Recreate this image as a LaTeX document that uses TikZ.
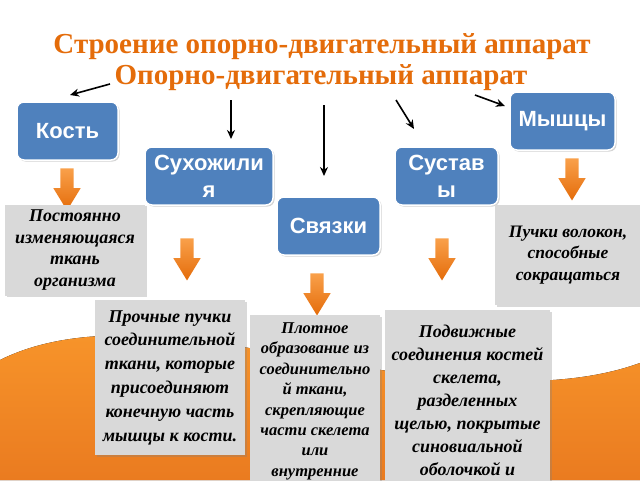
\documentclass[tikz,border=0pt]{standalone}
\usepackage{fontspec}
\setmainfont{Liberation Serif}
\setsansfont{Liberation Sans}
\usetikzlibrary{arrows.meta,shapes.arrows,shadows}
\definecolor{titleorange}{HTML}{E46C0A}
\definecolor{boxblue}{HTML}{4F81BD}
\definecolor{boxgray}{HTML}{D9D9D9}
\definecolor{arrowlight}{HTML}{F9A04A}
\definecolor{arrowdark}{HTML}{E46C0A}
\definecolor{wavetop}{HTML}{F7942A}
\definecolor{wavebottom}{HTML}{EA7B20}
\tikzset{
  titletext/.style={text=titleorange, font=\bfseries\fontsize{29}{33}\selectfont, inner sep=0pt},
  partbox/.style={draw=white, line width=1.5pt, fill=boxblue, rounded corners=7pt,
    text=white, align=center, font=\sffamily\bfseries\fontsize{22}{27}\selectfont,
    drop shadow={opacity=0.35, shadow xshift=1.5pt, shadow yshift=-1.5pt}},
  notebox/.style={fill=boxgray, align=center, inner xsep=0pt,
    drop shadow={opacity=0.3, shadow xshift=1.5pt, shadow yshift=-1.5pt}},
  downarrow/.style={single arrow, shape border rotate=270, top color=arrowlight,
    bottom color=arrowdark, minimum height=42pt, minimum width=27pt,
    single arrow head extend=7pt, single arrow tip angle=63, inner sep=6.5pt},
  link/.style={-{Stealth[length=9pt,width=8pt]}, line width=1.6pt}
}
\begin{document}
\begin{tikzpicture}[x=1pt,y=1pt]
  \clip (0,0) rectangle (640,-480);
  \fill[top color=wavetop, bottom color=wavebottom] (0,-360)
    .. controls (40,-340) and (90,-333) .. (150,-336)
    .. controls (260,-342) and (400,-385) .. (530,-381)
    .. controls (580,-380) and (615,-372) .. (640,-363)
    -- (640,-480) -- (0,-480) -- cycle;

  \node[titletext] (title) at (322,-47) {Строение опорно-двигательный аппарат};
  \node[titletext] (subtitle) at (321,-78) {Опорно-двигательный аппарат};

  \node[partbox, minimum width=101pt, minimum height=58pt] (kost) at (67.5,-131) {Кость};
  \node[partbox, minimum width=128pt, minimum height=58pt] (suhozh) at (209,-176) {Сухожили\\я};
  \node[partbox, minimum width=103pt, minimum height=58pt] (svyaz) at (328.5,-226) {Связки};
  \node[partbox, minimum width=103pt, minimum height=58pt] (sustav) at (446.5,-176) {Сустав\\ы};
  \node[partbox, minimum width=105pt, minimum height=58pt] (myshcy) at (562.5,-121) {Мышцы};

  \coordinate (kostfrom) at (110,-84);   \coordinate (kostto) at (70,-95);
  \coordinate (suhozhfrom) at (231,-100); \coordinate (suhozhto) at (231,-139);
  \coordinate (svyazfrom) at (324,-105);  \coordinate (svyazto) at (324,-176);
  \coordinate (sustavfrom) at (396,-100); \coordinate (sustavto) at (414,-129);
  \coordinate (myshcyfrom) at (475,-95);  \coordinate (myshcyto) at (505,-106);
  \draw[link] (kostfrom) -- (kostto);
  \draw[link] (suhozhfrom) -- (suhozhto);
  \draw[link] (svyazfrom) -- (svyazto);
  \draw[link] (sustavfrom) -- (sustavto);
  \draw[link] (myshcyfrom) -- (myshcyto);

  \node[downarrow] (kostarrow) at (67,-184) {};
  \node[downarrow] (suhozharrow) at (187,-254) {};
  \node[downarrow] (svyazarrow) at (317,-289) {};
  \node[downarrow] (sustavarrow) at (442,-254) {};
  \node[downarrow] (myshcyarrow) at (572,-174) {};

  \node[notebox, minimum width=140pt, minimum height=91pt,
    font=\bfseries\itshape\fontsize{18}{21.7}\selectfont] (kostnote) at (75,-250)
    {Постоянно\\изменяющаяся\\ткань\\организма};
  \node[notebox, minimum width=150pt, minimum height=155pt,
    font=\bfseries\itshape\fontsize{18}{23.8}\selectfont] (suhozhnote) at (170,-377.5)
    {Прочные пучки\\соединительной\\ткани, которые\\присоединяют\\конечную часть\\мышцы к кости.};
  \node[notebox, minimum width=130pt, minimum height=172pt, inner ysep=0pt, anchor=north,
    font=\bfseries\itshape\fontsize{16.5}{20.4}\selectfont] (svyaznote) at (315,-315)
    {Плотное\\образование из\\соединительно\\й ткани,\\скрепляющие\\части скелета\\или\\внутренние};
  \node[notebox, minimum width=165pt, inner ysep=15pt, anchor=north,
    font=\bfseries\itshape\fontsize{18}{23}\selectfont] (sustavnote) at (467.5,-310)
    {Подвижные\\соединения костей\\скелета,\\разделенных\\щелью, покрытые\\синовиальной\\оболочкой и\\суставной сумкой.};
  \node[notebox, minimum width=146pt, minimum height=100pt,
    font=\bfseries\itshape\fontsize{17.5}{21.5}\selectfont] (myshcynote) at (568,-255)
    {Пучки волокон,\\способные\\сокращаться};
\end{tikzpicture}
\end{document}
